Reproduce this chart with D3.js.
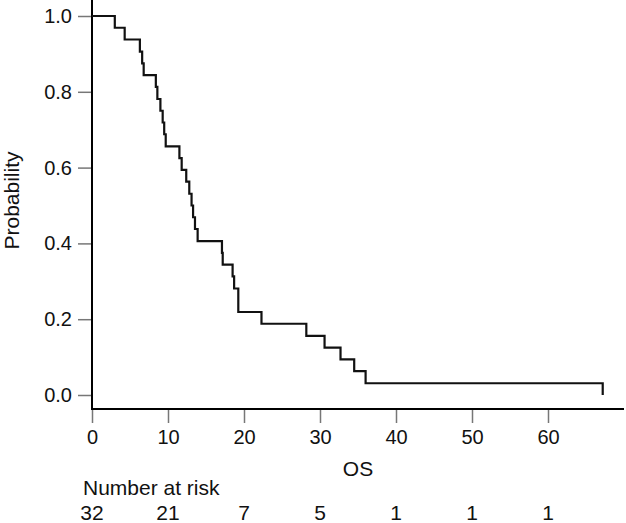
<!DOCTYPE html>
<html>
<head>
<meta charset="utf-8">
<script src="https://cdn.jsdelivr.net/npm/d3@7"></script>
<style>
  html, body { margin: 0; padding: 0; background: #fff; }
  svg { display: block; font-family: 'Liberation Sans', Arial, sans-serif; }
</style>
</head>
<body>
<div id="app"></div>
<script>
// event times (OS) and survival probability right after each event
const eventTimes = [3.0, 4.3, 6.3, 6.6, 6.8, 8.4, 8.6, 9.0, 9.3, 9.5, 9.7, 11.5, 11.8, 12.4, 12.8,
  13.1, 13.3, 13.55, 13.9, 17.1, 17.2, 18.5, 18.7, 19.25, 22.3, 28.2, 30.6, 32.7, 34.5, 36.0, 67.2]
const survival = [0.969, 0.938, 0.906, 0.875, 0.844, 0.813, 0.781, 0.750, 0.719, 0.688, 0.656, 0.625,
  0.594, 0.563, 0.531, 0.500, 0.469, 0.438, 0.406, 0.375, 0.344, 0.313, 0.281, 0.219, 0.188, 0.156,
  0.125, 0.094, 0.063, 0.031, 0.0]

const xTicks = [0, 10, 20, 30, 40, 50, 60]
const yTicks = [0, 0.2, 0.4, 0.6, 0.8, 1.0]
const riskCounts = [32, 21, 7, 5, 1, 1, 1]

const width = 626
const height = 523
const axisY = 409 // x axis sits a little below y=0
const axisX = 92

const svg = d3.select('#app').append('svg').attr('width', width).attr('height', height)

const x = d3.scaleLinear().domain([0, 70]).range([axisX, 624])
const y = d3.scaleLinear().domain([0, 1]).range([395, 16])

// axis lines
svg.append('line')
  .attr('x1', axisX).attr('x2', axisX).attr('y1', 0).attr('y2', axisY + 1)
  .attr('stroke', '#000').attr('stroke-width', 2)
svg.append('line')
  .attr('x1', axisX - 1).attr('x2', 624).attr('y1', axisY).attr('y2', axisY)
  .attr('stroke', '#000').attr('stroke-width', 2)

// y axis ticks + labels
const yAxis = svg.append('g').attr('transform', `translate(${axisX - 1},0)`)
  .call(d3.axisLeft(y).tickValues(yTicks).tickFormat(d3.format('.1f')).tickSize(13).tickPadding(6))
yAxis.select('.domain').remove()
yAxis.selectAll('.tick line').attr('stroke', '#777').attr('stroke-width', 1.5)
yAxis.selectAll('.tick text').attr('font-size', 20).attr('fill', '#111')
  .attr('font-family', "'Liberation Sans', Arial, sans-serif")

// x axis ticks + labels
const xAxis = svg.append('g').attr('transform', `translate(0,${axisY + 1})`)
  .call(d3.axisBottom(x).tickValues(xTicks).tickFormat(d3.format('d')).tickSize(13).tickPadding(7))
xAxis.select('.domain').remove()
xAxis.selectAll('.tick line').attr('stroke', '#777').attr('stroke-width', 1.5)
xAxis.selectAll('.tick text').attr('font-size', 20).attr('fill', '#111')
  .attr('font-family', "'Liberation Sans', Arial, sans-serif")

// KM curve
const pts = [[0, 1]].concat(eventTimes.map((t, i) => [t, survival[i]]))
const line = d3.line().x((d) => x(d[0])).y((d) => y(d[1])).curve(d3.curveStepAfter)
svg.append('path')
  .attr('d', line(pts))
  .attr('fill', 'none')
  .attr('stroke', '#111')
  .attr('stroke-width', 2.2)

// axis titles
svg.append('text')
  .attr('transform', `translate(19,${(y(0) + y(1)) / 2 - 5}) rotate(-90)`)
  .attr('text-anchor', 'middle')
  .attr('font-size', 21)
  .attr('fill', '#111')
  .text('Probability')

svg.append('text')
  .attr('x', (axisX + 624) / 2)
  .attr('y', 476)
  .attr('text-anchor', 'middle')
  .attr('font-size', 21)
  .attr('fill', '#111')
  .text('OS')

// risk table
svg.append('text')
  .attr('x', 83)
  .attr('y', 495)
  .attr('font-size', 21)
  .attr('fill', '#111')
  .text('Number at risk')

svg.append('g')
  .selectAll('text')
  .data(riskCounts)
  .join('text')
  .attr('x', (d, i) => x(xTicks[i]))
  .attr('y', 520)
  .attr('text-anchor', 'middle')
  .attr('font-size', 21)
  .attr('fill', '#111')
  .text((d) => d)
</script>
</body>
</html>
